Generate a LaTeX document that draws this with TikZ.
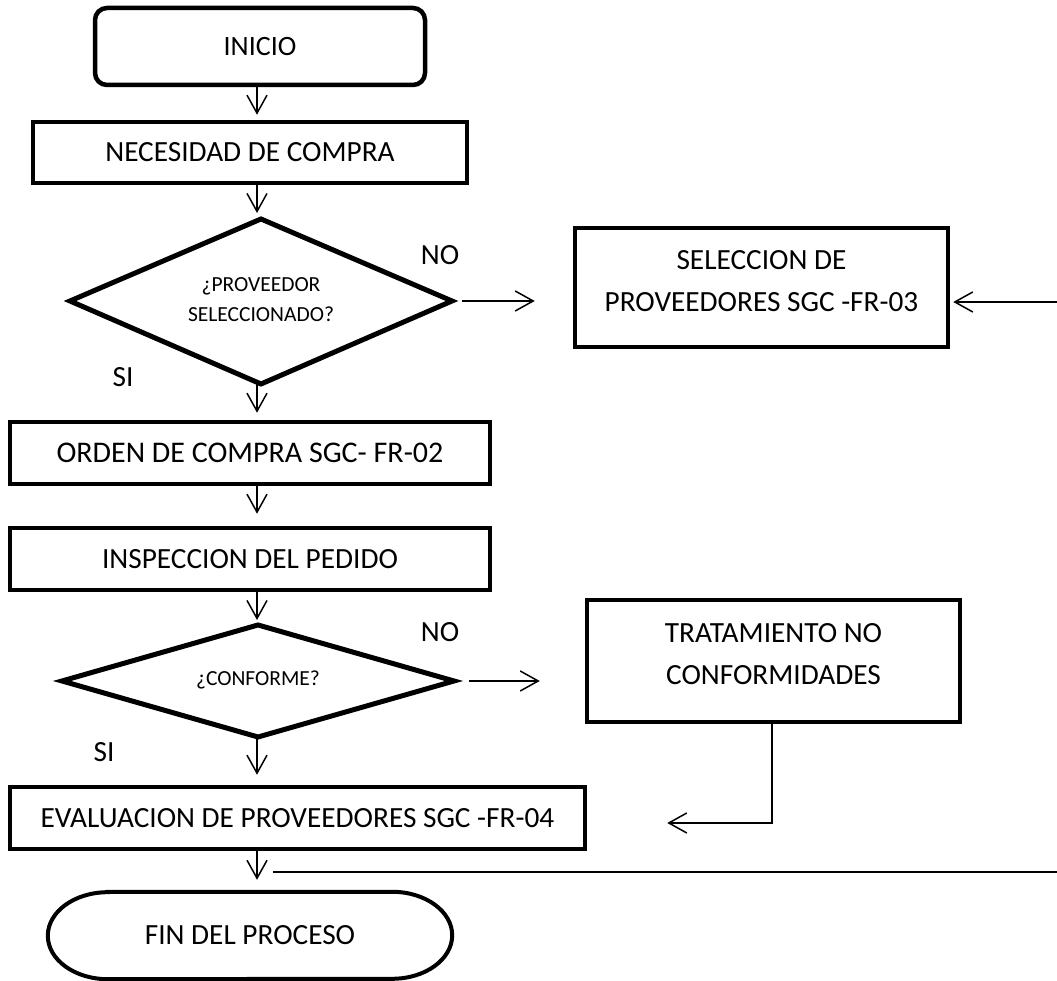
\documentclass[tikz,border=0pt]{standalone}
\usepackage{fontspec}
\setmainfont{Carlito}
\usetikzlibrary{arrows.meta}
\begin{document}
\begin{tikzpicture}[x=1pt,y=1pt,
  every node/.style={font=\fontsize{29.3}{42}\selectfont, inner sep=0pt, align=center},
  procbox/.style={draw, line width=4.5pt, rectangle},
  qtext/.style={font=\fontsize{21.5}{30}\selectfont},
  diam/.style={draw, line width=5pt, line join=miter},
  flow/.style={line width=1.5pt, -{Straight Barb[length=18pt,width=20pt]}},
  plain/.style={line width=1.5pt}]

\useasboundingbox (0,0) rectangle (1057,981);

% main column of vertical connectors
\coordinate (col) at (257,0);

% process steps
\node[procbox, rounded corners=12pt, minimum width=330pt, minimum height=77pt,
      font=\fontsize{28}{42}\selectfont] (inicio) at (260,934.5) {INICIO};
\node[procbox, minimum width=434pt, minimum height=61pt] (necesidad) at (250,828.5) {NECESIDAD DE COMPRA};

% first decision
\node[qtext] (q1) at (261,681) {¿PROVEEDOR\\SELECCIONADO?};
\coordinate (q1t) at (261,762);
\coordinate (q1r) at (452,680);
\coordinate (q1b) at (261,597);
\coordinate (q1l) at (70,680);
\draw[diam] (q1t) -- (q1r) -- (q1b) -- (q1l) -- cycle;
\node (no1) at (440,726) {NO};
\node (si1) at (123,604) {SI};

\node[procbox, minimum width=373pt, minimum height=119pt] (sel) at (761.5,693.5) {};
\node (seltxt) at (761.5,700) {SELECCION DE\\PROVEEDORES SGC -FR-03};

\node[procbox, minimum width=480pt, minimum height=62pt, font=\fontsize{30}{42}\selectfont] (orden) at (250,528) {ORDEN DE COMPRA SGC- FR-02};
\node[procbox, minimum width=480pt, minimum height=62pt] (inspeccion) at (250,422) {INSPECCION DEL PEDIDO};

% second decision
\node[qtext] (q2) at (258,301) {¿CONFORME?};
\coordinate (q2t) at (258,356);
\coordinate (q2r) at (454,300);
\coordinate (q2b) at (258,244);
\coordinate (q2l) at (62,300);
\draw[diam] (q2t) -- (q2r) -- (q2b) -- (q2l) -- cycle;
\node (no2) at (440,349) {NO};
\node (si2) at (104,229) {SI};

\node[procbox, minimum width=373pt, minimum height=122pt] (trat) at (773.5,320) {};
\node (trattxt) at (773.5,327) {TRATAMIENTO NO\\CONFORMIDADES};

\node[procbox, minimum width=575pt, minimum height=62pt] (evaluacion) at (297.5,163) {EVALUACION DE PROVEEDORES SGC -FR-04};

% terminal with elliptical ends
\node[minimum width=404pt, minimum height=87pt] (fin) at (250,45.5) {FIN DEL PROCESO};
\draw[line width=4pt]
  ([xshift=60pt]fin.north west) -- ([xshift=-60pt]fin.north east)
  arc[start angle=90, end angle=-90, x radius=60pt, y radius=43.5pt]
  -- ([xshift=60pt]fin.south west)
  arc[start angle=270, end angle=90, x radius=60pt, y radius=43.5pt] -- cycle;

% connectors
\draw[flow, shorten >=5pt] (inicio.south -| col) -- (necesidad.north -| col);
\draw[flow, shorten >=6pt] (necesidad.south -| col) -- (q1t -| col);
\draw[flow, shorten >=7pt] (q1b -| col) -- (orden.north -| col);
\draw[flow, shorten >=12pt] (orden.south -| col) -- (inspeccion.north -| col);
\draw[flow, shorten >=5pt] (inspeccion.south -| col) -- (q2t -| col);
\draw[flow, shorten >=10pt] (q2b -| col) -- (evaluacion.north -| col);
\draw[flow, shorten >=12pt] (evaluacion.south -| col) -- (fin.north -| col);

\draw[flow, shorten <=10pt, shorten >=38pt] (q1r) -- (q1r -| sel.west);
\coordinate (edgeA) at (1057,679);
\draw[flow, shorten >=3pt] (edgeA) -- (edgeA -| sel.east);

\draw[flow, shorten <=15pt, shorten >=45pt] (q2r) -- (q2r -| trat.west);
\coordinate (bend) at (772,158);
\draw[flow, shorten >=80pt] (trat.south -| bend) -- (bend) -- (bend -| evaluacion.east);

\coordinate (edgeB) at (1057,109);
\coordinate (lineend) at (273,109);
\draw[plain] (edgeB) -- (lineend);
\end{tikzpicture}
\end{document}
